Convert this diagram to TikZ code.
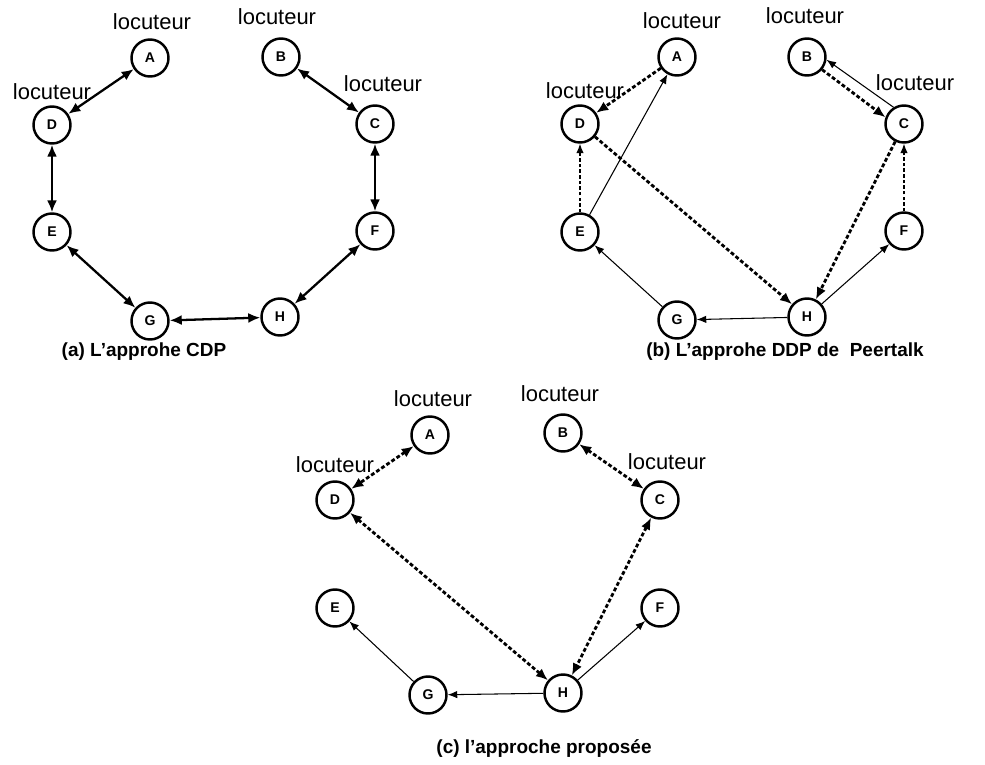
\documentclass[tikz,border=0pt]{standalone}
\usepackage{fontspec}
\setmainfont{Liberation Sans}
\usepackage{tikz}
\usetikzlibrary{arrows.meta}
\tikzstyle{vx}=[shape=circle, minimum size=7.4mm, inner sep=0, draw, line width=1.4pt, font=\bfseries\fontsize{8}{8}\selectfont]
\tikzstyle{loc}=[font=\fontsize{12.5}{14}\selectfont, inner sep=0]
\tikzstyle{capt}=[font=\bfseries\fontsize{10.8}{12}\selectfont, inner sep=0]
\tikzstyle{dbl}=[{Latex[length=2.4mm,width=2mm]}-{Latex[length=2.4mm,width=2mm]}, line width=1.3pt]
\tikzstyle{dsh}=[-{Latex[length=2.4mm,width=2mm]}, line width=1.6pt, dash pattern=on 2.2pt off 1.3pt]
\tikzstyle{dshdbl}=[{Latex[length=2.4mm,width=2mm]}-{Latex[length=2.4mm,width=2mm]}, line width=1.6pt, dash pattern=on 2.2pt off 1.3pt]
\tikzstyle{thn}=[-{Latex[length=1.9mm,width=1.5mm]}, line width=0.6pt]
\tikzstyle{thndsh}=[-{Latex[length=1.9mm,width=1.5mm]}, line width=0.6pt, dash pattern=on 2pt off 1.2pt]

\begin{document}
\begin{tikzpicture}[x=0.2mm, y=-0.2mm]
\useasboundingbox (0,0) rectangle (985,764);
% (a)
\node at (150,58)[vx](aA){A};
\node at (281,57)[vx](aB){B};
\node at (375,124)[vx](aC){C};
\node at (52,125)[vx](aD){D};
\node at (52,232)[vx](aE){E};
\node at (375,231)[vx](aF){F};
\node at (150,321)[vx](aG){G};
\node at (280,317)[vx](aH){H};
\node at (152,22)[loc](aLA){locuteur};
\node at (277,17)[loc](aLB){locuteur};
\node at (383,84)[loc](aLC){locuteur};
\node at (52,92)[loc](aLD){locuteur};
\draw[dbl] (aA)--(aD);
\draw[dbl] (aD)--(aE);
\draw[dbl] (aE)--(aG);
\draw[dbl] (aG)--(aH);
\draw[dbl] (aH)--(aF);
\draw[dbl] (aF)--(aC);
\draw[dbl] (aC)--(aB);
\node at (144,352)[capt](aCap){(a) L'approhe CDP};
% (b)
\node at (677,57)[vx](bA){A};
\node at (807,57)[vx](bB){B};
\node at (904,124)[vx](bC){C};
\node at (580,124)[vx](bD){D};
\node at (580,232)[vx](bE){E};
\node at (904,231)[vx](bF){F};
\node at (677,320)[vx](bG){G};
\node at (807,317)[vx](bH){H};
\node at (682,21)[loc](bLA){locuteur};
\node at (805,16)[loc](bLB){locuteur};
\node at (915,83)[loc](bLC){locuteur};
\node at (585,91)[loc](bLD){locuteur};
\draw[dsh] (bA)--(bD);
\draw[dsh] (bD)--(bH);
\draw[dsh] (bC)--(bH);
\draw[dsh] (bB.-40)--(bC.160);
\draw[thn] (bC.122)--(bB.-8);
\draw[thndsh] (bE)--(bD);
\draw[thndsh] (bF)--(bC);
\draw[thn] (bE)--(bA);
\draw[thn] (bG)--(bE);
\draw[thn] (bH)--(bG);
\draw[thn] (bH)--(bF);
\node at (785,352)[capt](bCap){(b) L'approhe DDP de\ \ Peertalk};
% (c)
\node at (430,435)[vx](cA){A};
\node at (563,433)[vx](cB){B};
\node at (660,500)[vx](cC){C};
\node at (335,500)[vx](cD){D};
\node at (335,608)[vx](cE){E};
\node at (660,608)[vx](cF){F};
\node at (428,695)[vx](cG){G};
\node at (563,693)[vx](cH){H};
\node at (433,399)[loc](cLA){locuteur};
\node at (560,394)[loc](cLB){locuteur};
\node at (667,462)[loc](cLC){locuteur};
\node at (335,465)[loc](cLD){locuteur};
\draw[dshdbl] (cA)--(cD);
\draw[dshdbl] (cB)--(cC);
\draw[dshdbl] (cD)--(cH);
\draw[dshdbl] (cC)--(cH);
\draw[thn] (cG)--(cE);
\draw[thn] (cH)--(cG);
\draw[thn] (cH)--(cF);
\node at (544,748)[capt](cCap){(c) l'approche proposée};
\end{tikzpicture}
\end{document}
